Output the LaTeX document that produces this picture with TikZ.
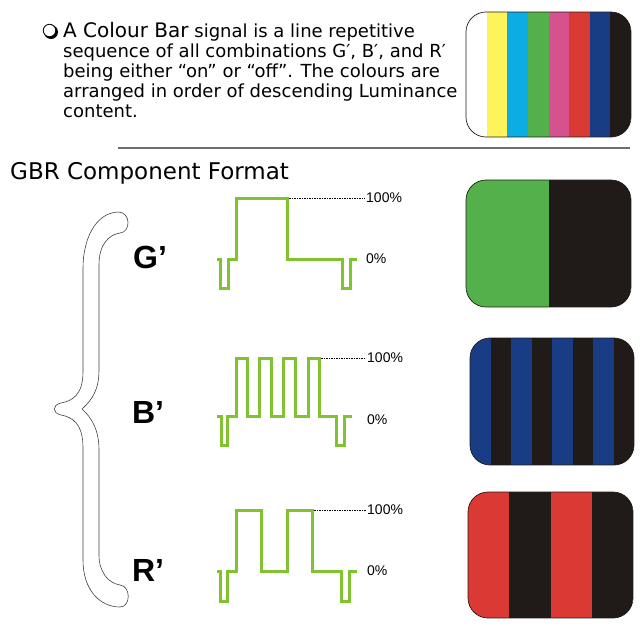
\documentclass[tikz,border=0pt]{standalone}
\usepackage{fontspec}
\setmainfont{DejaVu Sans}
\newfontfamily\arialfont{Liberation Sans}
\usetikzlibrary{positioning}
\definecolor{waveGreen}{RGB}{128,194,48}
\definecolor{barYellow}{RGB}{255,243,90}
\definecolor{barCyan}{RGB}{12,172,228}
\definecolor{barGreen}{RGB}{84,176,74}
\definecolor{barMagenta}{RGB}{214,82,142}
\definecolor{barRed}{RGB}{219,57,52}
\definecolor{barBlue}{RGB}{24,61,132}
\definecolor{barBlack}{RGB}{32,27,24}
\definecolor{ruleGray}{RGB}{110,110,110}
\tikzset{
	para/.style={inner sep=0pt, anchor=base west, font=\fontsize{18}{20}\selectfont},
	wave/.style={waveGreen, line width=3pt, line join=miter},
	pct/.style={anchor=west, inner sep=1pt, font=\arialfont\fontsize{14}{14}\selectfont},
	chan/.style={inner sep=0pt, font=\arialfont\bfseries\fontsize{32}{32}\selectfont},
	level/.style={black, line width=0.6pt, dash pattern=on 1.6pt off 0.9pt},
	boxcorner/.style={rounded corners=20pt},
}
% x, y, width, height, number of stripes, colours
\newcommand{\stripebox}[6]{%
	\begin{scope}
		\clip[boxcorner] (#1,#2) -- ++(#3,0) -- ++(0,#4) -- ++(-#3,0) -- cycle;
		\foreach \c [count=\i from 0] in {#6}
		\fill[\c] (#1+\i*#3/#5,#2) rectangle ++(#3/#5+0.4,#4);
	\end{scope}
	\draw[boxcorner, line width=0.7pt, barBlack] (#1,#2) -- ++(#3,0) -- ++(0,#4) -- ++(-#3,0) -- cycle;}
\begin{document}
\begin{tikzpicture}[x=1pt, y=-1pt]
		\useasboundingbox (0,0) rectangle (644,630);
		% text at the top
		\fill[black] (51,32) circle (7pt);
		\node[circle, fill=white, draw, line width=0.8pt, minimum size=12.5pt, inner sep=0pt] (bullet) at (49.5,30.5) {};
		\node[para] (line1) at (63,37) {{\fontsize{20}{20}\selectfont A Colour Bar} signal is a line repetitive};
		\node[para] (line2) at (63,57) {sequence of all combinations G′, B′, and R′};
		\node[para] (line3) at (63,77) {being either “on” or “off”. The colours are};
		\node[para] (line4) at (63,97) {arranged in order of descending Luminance};
		\node[para] (line5) at (63,117) {content.};
		\stripebox{466}{12}{165}{125}{8}{white,barYellow,barCyan,barGreen,barMagenta,barRed,barBlue,barBlack}
		\draw[ruleGray, line width=2pt] (118,148) -- (630,148);
		\node[inner sep=0pt, anchor=base west, font=\fontsize{23}{23}\selectfont] (title) at (10,179) {GBR Component Format};
		
		% brace
		\draw[black!75, line width=0.6pt] (118,212) .. controls (95,213) and (83,240) .. (83,268)
		-- (83,372) .. controls (83,395) and (72,401) .. (61,403)
		.. controls (52,405) and (52,413) .. (61,415)
		.. controls (72,417) and (83,423) .. (83,448)
		-- (83,560) .. controls (83,590) and (100,607) .. (120,607)
		.. controls (131,607) and (131,586) .. (120,585)
		.. controls (108,583) and (99,572) .. (99,555)
		-- (99,450) .. controls (99,430) and (92,418) .. (82,409)
		.. controls (92,400) and (99,390) .. (99,370)
		-- (99,265) .. controls (99,245) and (108,235) .. (120,233)
		.. controls (131,232) and (131,212) .. (118,212) -- cycle;
		
		% G'
		\node[chan] (G) at (150,257) {G’};
		\draw[wave] (217,259) -- (220,259) -- (220,288) -- (228,288) -- (228,259) -- (236,259)
		-- (236,198) -- (287,198) -- (287,259) -- (342,259) -- (342,288) -- (350,288)
		-- (350,259) -- (357,259);
		\node[pct] (g100) at (365,198) {100\%};
		\node[pct] (g0) at (365,259) {0\%};
		\draw[level] (289,198) -- (g100.west);
		\stripebox{466}{180}{165}{127}{2}{barGreen,barBlack}
		
		% B'
		\node[chan] (B) at (148,412) {B’};
		\draw[wave] (217,416) -- (221,416) -- (221,445) -- (227,445) -- (227,416) -- (236,416)
		-- (236,358) -- (247,358) -- (247,416) -- (259,416) -- (259,358) -- (271,358)
		-- (271,416) -- (283,416) -- (283,358) -- (295,358) -- (295,416) -- (308,416)
		-- (308,358) -- (319,358) -- (319,416) -- (336,416) -- (336,445) -- (344,445)
		-- (344,416) -- (352,416);
		\node[pct] (b100) at (366,358) {100\%};
		\node[pct] (b0) at (366,420) {0\%};
		\draw[level] (321,358) -- (b100.west);
		\stripebox{470}{338}{164}{127}{8}{barBlue,barBlack,barBlue,barBlack,barBlue,barBlack,barBlue,barBlack}
		
		% R'
		\node[chan] (R) at (148,570) {R’};
		\draw[wave] (217,571) -- (220,571) -- (220,601) -- (227,601) -- (227,571) -- (236,571)
		-- (236,510) -- (261,510) -- (261,571) -- (287,571) -- (287,510) -- (312,510)
		-- (312,571) -- (341,571) -- (341,601) -- (349,601) -- (349,571) -- (357,571);
		\node[pct] (r100) at (366,510) {100\%};
		\node[pct] (r0) at (366,571) {0\%};
		\draw[level] (314,510) -- (r100.west);
		\stripebox{468}{492}{165}{126}{4}{barRed,barBlack,barRed,barBlack}
	\end{tikzpicture}
\end{document}
